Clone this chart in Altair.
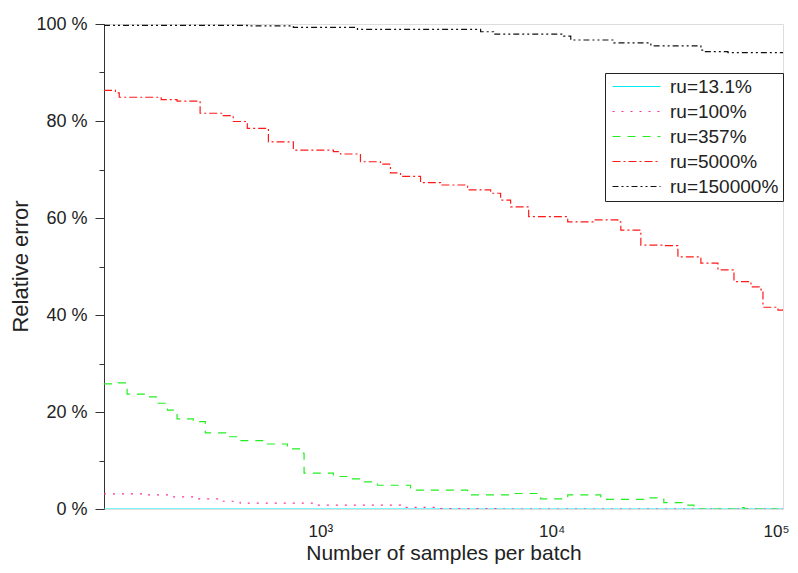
import altair as alt
import pandas as pd

# ---- data ----
series_names = ["ru=13.1%", "ru=100%", "ru=357%", "ru=5000%", "ru=150000%"]
series_colors = ["#00EEF2", "#FF2F9A", "#22EE22", "#FF1A1A", "#111111"]
series_dashes = [[1, 0], [2, 7], [8, 7], [8, 3, 2, 3], [6, 3, 2, 3, 2, 3]]

cyan_x = [116, 100000]
cyan_y = [0.0, 0.0]

magenta_x = [116, 171, 218, 282, 369, 450, 971, 2220, 3307, 6015, 100000]
magenta_y = [3.1, 2.9, 2.5, 2.1, 1.6, 1.2, 0.8, 0.35, 0.1, 0.0, 0.0]

green_x = [116, 133.5, 146, 178, 197, 218, 240, 282, 318, 396, 450, 590, 720,
           844, 850, 1138, 1309, 1490, 1765, 2220, 2453, 4329, 6645, 8964,
           11730, 16300, 25020, 30530, 37280, 41190, 66000, 68000, 100000]
green_y = [25.8, 26.0, 23.7, 23.1, 21.8, 20.4, 18.6, 18.0, 15.7, 14.9, 14.1,
           13.4, 12.4, 11.5, 7.4, 6.7, 6.2, 5.6, 4.9, 4.9, 3.9, 2.9, 3.2, 2.1,
           2.9, 2.0, 2.3, 1.3, 0.8, 0.0, 0.3, 0.0, 0.0]

red_x = [116, 130, 135, 205, 240, 302, 380, 420, 483, 596, 764, 1138, 1221,
         1490, 1818, 2009, 2220, 2710, 3307, 4329, 5444, 6015, 6645, 7952,
         11730, 15200, 19310, 19900, 24290, 30530, 35130, 44160, 52330, 61380,
         72700, 80300, 81920, 95150, 100000]
red_y = [86.3, 85.8, 84.9, 84.4, 84.1, 81.6, 81.1, 79.9, 78.5, 75.7, 74.0,
         73.7, 73.2, 71.6, 71.1, 69.3, 68.6, 67.3, 66.8, 65.8, 65.1, 63.7,
         62.3, 60.3, 59.2, 59.6, 59.2, 57.5, 54.4, 54.3, 52.0, 50.7, 49.3,
         46.9, 45.8, 45.2, 41.6, 41.0, 41.2]

black_x = [116, 483, 764, 1446, 2220, 4928, 5610, 11270, 12090, 18550, 26830,
           44160, 45500, 57800, 100000]
black_y = [99.7, 99.6, 99.3, 98.9, 98.9, 98.4, 97.9, 97.5, 96.7, 96.1, 95.5,
           94.6, 94.3, 94.1, 94.1]

x_ticks = [1000, 10000, 100000]
y_ticks = [0, 10, 20, 30, 40, 50, 60, 70, 80, 90, 100]

rows = []
for name, xs, ys in zip(series_names,
                        [cyan_x, magenta_x, green_x, red_x, black_x],
                        [cyan_y, magenta_y, green_y, red_y, black_y]):
    for xv, yv in zip(xs, ys):
        rows.append({"series": name, "n": xv, "err": yv})
df = pd.DataFrame(rows)

font = "Liberation Sans"

legend = alt.Legend(
    title=None,
    orient="none",
    legendX=501,
    legendY=49,
    strokeColor="#222222",
    fillColor="white",
    padding=4,
    symbolType="M-4,0H4",
    symbolSize=144,
    symbolOffset=18,
    symbolStrokeWidth=1.2,
    labelFontSize=19,
    labelFont=font,
    labelColor="#222222",
    labelOffset=24,
    rowPadding=5,
    labelLimit=300,
)

chart = alt.Chart(df).mark_line(interpolate="step-after", strokeWidth=1.2, clip=True).encode(
    x=alt.X("n:Q",
            scale=alt.Scale(type="log", domain=[116, 100000], nice=False),
            axis=alt.Axis(
                values=x_ticks,
                title="Number of samples per batch",
                labelExpr="datum.value == 1000 ? '10³' : datum.value == 10000 ? '10⁴' : '10⁵'",
                ticks=False, domain=False, grid=False,
                labelFontSize=17, labelPadding=14, labelFont=font, labelColor="#222222",
                labelFlush=True, labelFlushOffset=6,
                titleFontSize=21, titleFont=font, titleFontWeight="normal", titleColor="#222222",
                titleY=50, titleBaseline="alphabetic",
            )),
    y=alt.Y("err:Q",
            scale=alt.Scale(domain=[0, 100], nice=False),
            axis=alt.Axis(
                values=y_ticks,
                title="Relative error",
                labelExpr="datum.value % 20 === 0 ? datum.value + ' %' : ''",
                tickSize={"condition": {"test": "datum.value % 20 === 0", "value": 9}, "value": 5},
                tickColor="#333333", domainColor="#333333", grid=False,
                labelFontSize=18, labelPadding=8, labelFont=font, labelColor="#222222",
                labelFlush=False,
                titleFontSize=22, titleFont=font, titleFontWeight="normal", titleColor="#222222",
                titleX=-84, titleY=242, titleAngle=-90, titleAlign="center",
                titleBaseline="middle",
            )),
    color=alt.Color("series:N",
                    scale=alt.Scale(domain=series_names, range=series_colors),
                    legend=legend),
    strokeDash=alt.StrokeDash("series:N",
                              scale=alt.Scale(domain=series_names, range=series_dashes),
                              legend=legend),
    order=alt.Order("n:Q"),
).properties(
    width=679,
    height=485,
    autosize=alt.AutoSizeParams(type="none"),
    padding={"left": 96, "top": 16, "right": 7, "bottom": 56},
).configure_view(stroke=None).configure(background="white")

chart.save("out.html", embed_options={"renderer": "svg", "actions": False})
